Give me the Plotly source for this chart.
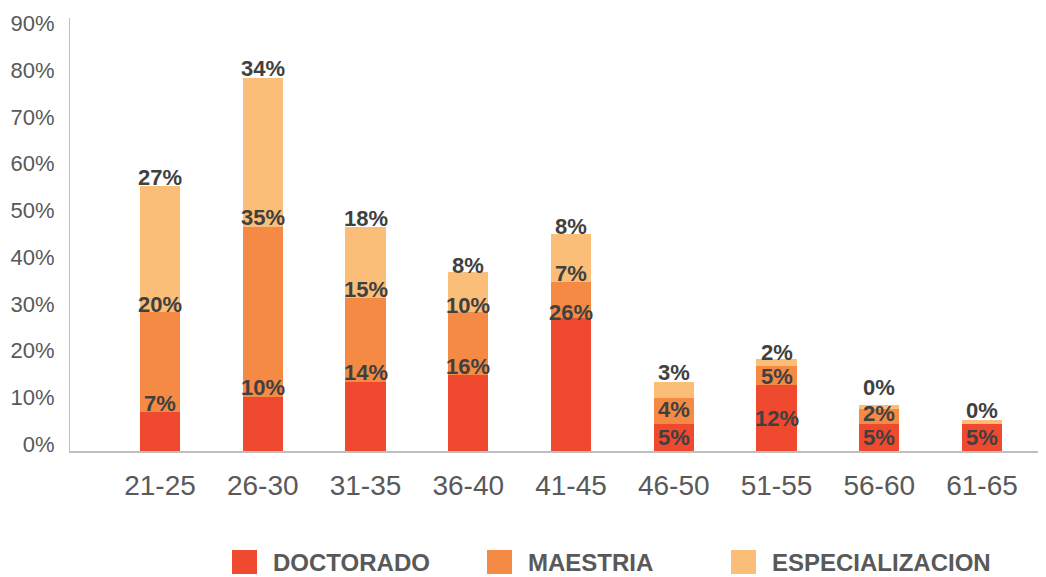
import plotly.graph_objects as go

# ---- data ----
categories = ["21-25", "26-30", "31-35", "36-40", "41-45", "46-50", "51-55", "56-60", "61-65"]
series_names = ["DOCTORADO", "MAESTRIA", "ESPECIALIZACION"]
# bar heights (fraction) as drawn
doctorado = [0.084, 0.116, 0.148, 0.163, 0.284, 0.058, 0.141, 0.058, 0.058]
maestria = [0.214, 0.364, 0.180, 0.134, 0.077, 0.056, 0.040, 0.032, 0.000]
especializacion = [0.269, 0.319, 0.152, 0.086, 0.104, 0.034, 0.016, 0.009, 0.008]
# data label texts as printed on the chart
doctorado_labels = ["7%", "10%", "14%", "16%", "26%", "5%", "12%", "5%", "5%"]
maestria_labels = ["20%", "35%", "15%", "10%", "7%", "4%", "5%", "2%", ""]
especializacion_labels = ["27%", "34%", "18%", "8%", "8%", "3%", "2%", "0%", "0%"]

# ---- style ----
colors = ["#EF4A2F", "#F58A45", "#FABE78"]
label_shift = [
    [8, 9, 9, 8, 6, -14, -33, -14, -14],
    [7, 9, 8, 7, 9, -12, -10, -5, 0],
    [9, 9, 8, 7, 7, 9, 6, 17, 10],
]
FONT = "Liberation Sans, Arial, sans-serif"

values = [doctorado, maestria, especializacion]
labels = [doctorado_labels, maestria_labels, especializacion_labels]

fig = go.Figure()
for name, vals, col in zip(series_names, values, colors):
    fig.add_trace(go.Bar(x=categories, y=vals, name=name, marker=dict(color=col, line=dict(width=0)),
                         showlegend=False))

annotations = []
base = [0.0] * len(categories)
for s, (vals, labs) in enumerate(zip(values, labels)):
    for i, c in enumerate(categories):
        top = base[i] + vals[i]
        if labs[i]:
            annotations.append(dict(x=c, y=top, xref="x", yref="y", text="<b>" + labs[i] + "</b>",
                                    showarrow=False, yanchor="middle", xanchor="center",
                                    yshift=label_shift[s][i],
                                    font=dict(family=FONT, size=22, color="#404040")))
        base[i] = top

# manual legend (large square swatches like the original)
leg_x = [232, 487, 731]
W, H = 1046, 577
ml, mr, mt, mb = 70, 8, 18, 126
pw, ph = W - ml - mr, H - mt - mb
shapes = []
for name, col, lx in zip(series_names, colors, leg_x):
    x0 = (lx - ml) / pw
    x1 = (lx + 25 - ml) / pw
    y0 = (H - mb - 574) / ph
    y1 = (H - mb - 550) / ph
    shapes.append(dict(type="rect", xref="paper", yref="paper", x0=x0, x1=x1, y0=y0, y1=y1,
                       fillcolor=col, line=dict(width=0)))
    annotations.append(dict(xref="paper", yref="paper", x=(lx + 39 - ml) / pw, y=(H - mb - 562) / ph,
                            text="<b>" + name + "</b>", showarrow=False, xanchor="left", yanchor="middle",
                            font=dict(family=FONT, size=24, color="#595959")))

fig.update_layout(
    width=W, height=H,
    margin=dict(l=ml, r=mr, t=mt, b=mb, autoexpand=False),
    paper_bgcolor="white", plot_bgcolor="white",
    barmode="stack", bargap=0.61,
    annotations=annotations, shapes=shapes,
    showlegend=False,
)
fig.update_xaxes(type="category", range=[-0.876, 8.545], showgrid=False, zeroline=False,
                 showline=True, linecolor="#BFBFBF", linewidth=2, ticks="", automargin=False,
                 tickfont=dict(family=FONT, size=28, color="#595959"), ticklabelstandoff=8)
fig.update_yaxes(range=[0, 0.927], tick0=0, dtick=0.1, tickformat=".0%", showgrid=False, zeroline=False,
                 showline=True, linecolor="#BFBFBF", linewidth=1, ticks="", automargin=False,
                 tickfont=dict(family=FONT, size=22, color="#595959"), ticklabelstandoff=10,
                 ticklabelshift=-7)

fig.write_html("out.html", config={"displayModeBar": False},
               post_script="document.body.style.margin='0';document.body.style.overflow='hidden';")
